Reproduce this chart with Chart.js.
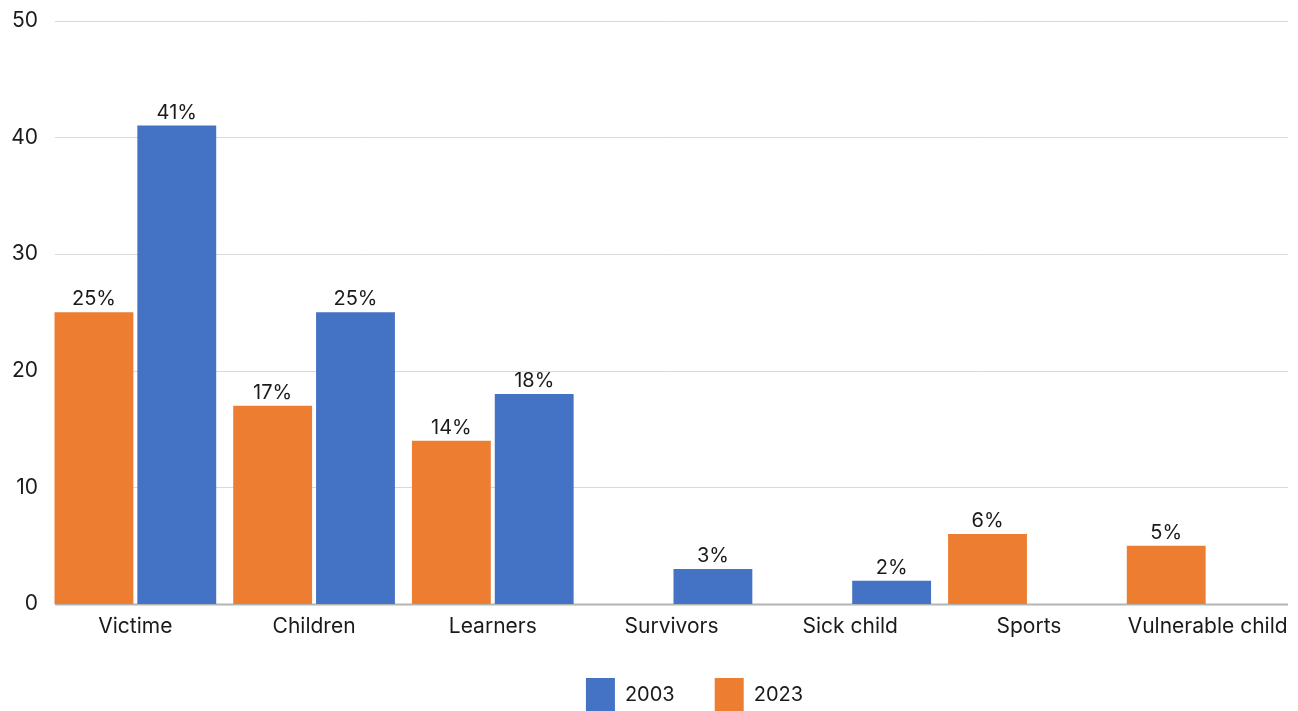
<!DOCTYPE html>
<html>
<head>
<meta charset="utf-8">
<script src="https://cdn.jsdelivr.net/npm/chart.js@4/dist/chart.umd.min.js"></script>
<style>
  html, body { margin: 0; padding: 0; background: #fff; }
  #wrap { width: 1298px; height: 711px; }
</style>
</head>
<body>
<div id="wrap"><canvas id="barChart"></canvas></div>
<script>
// Categories and percentages per year
const categories = ['Victime', 'Children', 'Learners', 'Survivors', 'Sick child', 'Sports', 'Vulnerable child'];
const values2023 = [25, 17, 14, null, null, 6, 5];
const values2003 = [41, 25, 18, 3, 2, null, null];
const yTicks = [0, 10, 20, 30, 40, 50];

const FONT = 'Inter, "Open Sans", sans-serif';

// grid lines drawn under the bars, inset a little from the plot edges
const insetGrid = {
  id: 'insetGrid',
  beforeDatasetsDraw(chart) {
    const { ctx, chartArea, scales } = chart;
    const x0 = chartArea.left + 9, x1 = chartArea.right - 9;
    ctx.save();
    yTicks.forEach(v => {
      const y = Math.round(scales.y.getPixelForValue(v)) + 0.5;
      ctx.beginPath();
      ctx.strokeStyle = v === 0 ? '#b4b4b4' : '#d9d9d9';
      ctx.lineWidth = v === 0 ? 2 : 1;
      ctx.moveTo(x0, y);
      ctx.lineTo(x1, y);
      ctx.stroke();
    });
    ctx.restore();
  }
};

// percentage labels above each bar
const barLabels = {
  id: 'barLabels',
  afterDatasetsDraw(chart) {
    const { ctx } = chart;
    ctx.save();
    ctx.font = '20px ' + FONT;
    ctx.fillStyle = '#1a1a1a';
    ctx.textAlign = 'center';
    ctx.textBaseline = 'bottom';
    chart.data.datasets.forEach((ds, i) => {
      chart.getDatasetMeta(i).data.forEach((bar, j) => {
        const v = ds.data[j];
        if (v == null) return;
        ctx.fillText(v + '%', bar.x, bar.y - 3);
      });
    });
    ctx.restore();
  }
};

// nudge the legend a bit right of the plot centre
const legendShift = {
  id: 'legendShift',
  afterLayout(chart) {
    chart.legend.left += 23;
    chart.legend.right += 23;
  }
};

const ctx = document.getElementById('barChart').getContext('2d');
new Chart(ctx, {
  type: 'bar',
  data: {
    labels: categories,
    datasets: [
      {
        label: '2023',
        data: values2023,
        backgroundColor: '#ED7D31',
        categoryPercentage: 0.927,
        barPercentage: 0.952
      },
      {
        label: '2003',
        data: values2003,
        backgroundColor: '#4472C4',
        categoryPercentage: 0.927,
        barPercentage: 0.952
      }
    ]
  },
  options: {
    responsive: true,
    maintainAspectRatio: false,
    animation: false,
    layout: { padding: { top: 10, right: 1, left: 0, bottom: -10 } },
    plugins: {
      tooltip: { enabled: false },
      legend: {
        position: 'bottom',
        fullSize: false,
        reverse: true,
        labels: {
          font: { family: FONT, size: 20 },
          color: '#1a1a1a',
          boxWidth: 29,
          boxHeight: 33,
          padding: 40
        }
      }
    },
    scales: {
      x: {
        afterFit(scale) { scale.height = 34; },
        grid: { display: false, drawTicks: false },
        border: { display: false },
        ticks: {
          font: { family: FONT, size: 21 },
          color: '#1a1a1a',
          padding: 10,
          maxRotation: 0,
          autoSkip: false
        }
      },
      y: {
        min: 0,
        max: 50,
        afterFit(scale) { scale.width = 46; },
        grid: { display: false, drawTicks: false },
        border: { display: false },
        ticks: {
          stepSize: 10,
          font: { family: FONT, size: 21 },
          color: '#1a1a1a',
          padding: 8
        }
      }
    }
  },
  plugins: [insetGrid, barLabels, legendShift]
});
</script>
</body>
</html>
